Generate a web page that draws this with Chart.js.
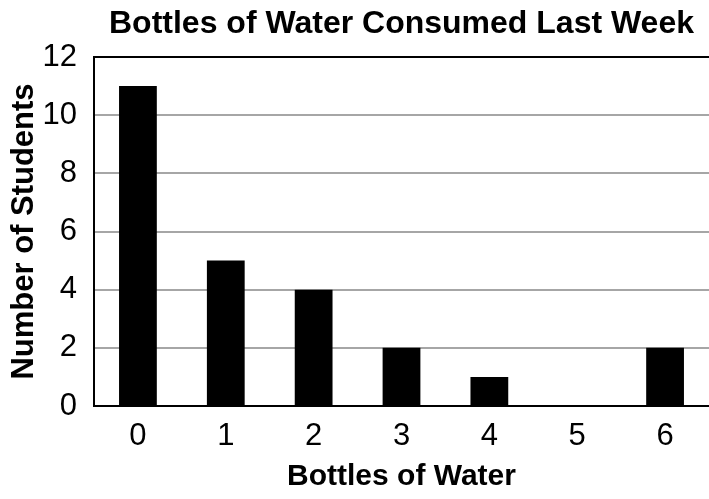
<!DOCTYPE html>
<html>
<head>
<meta charset="utf-8">
<script src="https://cdn.jsdelivr.net/npm/chart.js@4"></script>
<style>
  html, body { margin: 0; padding: 0; background: #ffffff; }
  #wrap { width: 709px; height: 499px; position: relative; }
</style>
</head>
<body>
<div id="wrap"><canvas id="c" width="709" height="499"></canvas></div>
<script>
const categories = ["0", "1", "2", "3", "4", "5", "6"];
const students = [11, 5, 4, 2, 1, 0, 2];
const yTicks = [0, 2, 4, 6, 8, 10, 12];
const chartTitle = "Bottles of Water Consumed Last Week";
const xTitle = "Bottles of Water";
const yTitle = "Number of Students";

const FONT = "'Liberation Sans', Arial, sans-serif";

new Chart(document.getElementById('c'), {
  type: 'bar',
  data: {
    labels: categories,
    datasets: [{
      data: students,
      backgroundColor: '#000000',
      borderWidth: 0,
      categoryPercentage: 1.0,
      barPercentage: 0.43
    }]
  },
  options: {
    responsive: false,
    animation: false,
    devicePixelRatio: 1,
    layout: { padding: { left: 0, right: -4, top: 0, bottom: 0 } },
    plugins: {
      legend: { display: false },
      tooltip: { enabled: false },
      title: {
        display: true,
        text: chartTitle,
        color: '#000000',
        fullSize: false,
        font: { family: FONT, size: 32, weight: 'bold' },
        padding: { top: 5, bottom: 13.6 }
      }
    },
    scales: {
      x: {
        grid: { display: false, drawTicks: false },
        border: { display: true, color: '#000000', width: 2 },
        ticks: { color: '#000000', font: { family: FONT, size: 31 }, padding: 12, maxRotation: 0 },
        title: { display: true, text: xTitle, color: '#000000', font: { family: FONT, size: 30, weight: 'bold' }, padding: { top: 4, bottom: 4 } },
        afterFit: (s) => { s.height = 93; }
      },
      y: {
        min: 0, max: 12,
        afterBuildTicks: (s) => { s.ticks = yTicks.map(v => ({ value: v })); },
        grid: {
          drawTicks: false,
          lineWidth: 2,
          color: (ctx) => (ctx.tick && ctx.tick.value === 12) ? '#000000' : '#a6a6a6'
        },
        border: { display: true, color: '#000000', width: 2 },
        ticks: { color: '#000000', font: { family: FONT, size: 31 }, padding: 17 },
        title: { display: true, text: yTitle, color: '#000000', font: { family: FONT, size: 31, weight: 'bold' }, padding: { top: 6, bottom: 6 } },
        afterFit: (s) => { s.width = 94; }
      }
    }
  }
});
</script>
</body>
</html>
